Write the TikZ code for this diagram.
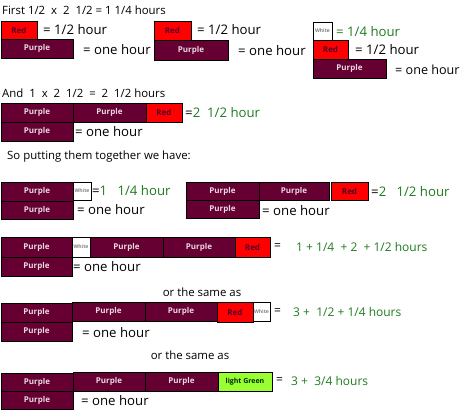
\documentclass[tikz,border=0pt]{standalone}
\usepackage{fontspec}
\setmainfont{Open Sans}
\definecolor{purp}{HTML}{660033}
\definecolor{lgreen}{HTML}{99FF33}
\definecolor{gtxt}{HTML}{1E7B1E}
\tikzset{
 bar/.style={draw=black, line width=0.8pt, anchor=north west, inner sep=0pt, outer sep=0pt, font=\fontsize{8}{8}\selectfont\bfseries},
 pbar/.style={bar, fill=purp, text=white!85!purp},
 rbar/.style={bar, fill=red, text=purp!80!black},
 wbar/.style={bar, fill=white, text=gray, font=\fontsize{5}{5}\selectfont\bfseries},
 gbar/.style={bar, fill=lgreen, text=black!60!green!40!black},
 txt/.style={anchor=west, inner sep=0pt, font=\fontsize{13.2}{13.2}\selectfont},
 stx/.style={anchor=west, inner sep=0pt, font=\fontsize{12}{12}\selectfont},
 ttl/.style={anchor=west, inner sep=0pt, font=\fontsize{11.4}{11.4}\selectfont},
 gtx/.style={txt, text=gtxt},
 sgtx/.style={stx, text=gtxt},
}
\newcommand\gr[1]{\textcolor{gtxt}{#1}}
\begin{document}
\begin{tikzpicture}[x=1pt,y=-1pt]
\useasboundingbox (0,0) rectangle (462,410);
% title
\node[ttl] (t1) at (2,10) {First 1/2\ \ x\ \ 2\ \ 1/2 = 1 1/4 hours};
% block A
\node[rbar, minimum width=36pt, minimum height=18pt] (aR) at (1,21) {Red};
\node[pbar, minimum width=72pt, minimum height=19pt] (aP) at (1,39) {Purple};
\node[txt] (aRt) at (43,30) {=\ 1/2 hour};
\node[txt] (aPt) at (83,50) {=\ one hour};
% block B
\node[rbar, minimum width=37pt, minimum height=19pt] (bR) at (154,21) {Red};
\node[pbar, minimum width=74pt, minimum height=20pt] (bP) at (154,40) {Purple};
\node[txt] (bRt) at (197,30) {=\ 1/2 hour};
\node[txt] (bPt) at (238,51) {=\ one hour};
% block C
\node[wbar, minimum width=19pt, minimum height=18pt] (cW) at (313,22) {White};
\node[rbar, minimum width=35pt, minimum height=19pt] (cR) at (313,40) {Red};
\node[pbar, minimum width=73pt, minimum height=19pt] (cP) at (313,59) {Purple};
\node[gtx] (cWt) at (336,32) {=\ 1/4 hour};
\node[txt] (cRt) at (355,50) {=\ 1/2 hour};
\node[txt, font=\fontsize{12.6}{12.6}\selectfont] (cPt) at (395,70) {=\ one hour};
% row 2
\node[ttl] (t2) at (2,93) {And\ \ 1\ \ x\ \ 2\ \ 1/2\ \ =\ \ 2\ \ 1/2 hours};
\node[pbar, minimum width=72pt, minimum height=19pt] (dP1) at (1,103) {Purple};
\node[pbar, minimum width=73pt, minimum height=19pt] (dP2) at (73,103) {Purple};
\node[rbar, minimum width=36pt, minimum height=19pt] (dR) at (146,103) {Red};
\node[txt] (dRt) at (185,113) {=\gr{2\ \ 1/2 hour}};
\node[pbar, minimum width=72pt, minimum height=19pt] (dP) at (1,122) {Purple};
\node[txt] (dPt) at (75,132) {=\ one hour};
\node[ttl] (t3) at (7,157) {So putting them together we have:};
% row 3 left
\node[pbar, minimum width=72pt, minimum height=19pt] (eP1) at (1,182) {Purple};
\node[wbar, minimum width=18pt, minimum height=18pt] (eW) at (73,182) {White};
\node[txt] (eWt) at (92,191) {=\gr{1\ \ \ 1/4 hour}};
\node[pbar, minimum width=72pt, minimum height=18pt] (eP) at (1,201) {Purple};
\node[txt] (ePt) at (77,210) {=\ one hour};
% row 3 right
\node[pbar, minimum width=73pt, minimum height=18pt] (fP1) at (186,182) {Purple};
\node[pbar, minimum width=70pt, minimum height=18pt] (fP2) at (259,182) {Purple};
\node[rbar, minimum width=37pt, minimum height=18pt] (fR) at (331,182) {Red};
\node[txt] (fRt) at (371,192) {=\gr{2\ \ \ 1/2 hour}};
\node[pbar, minimum width=73pt, minimum height=18pt] (fP) at (186,200) {Purple};
\node[txt] (fPt) at (262,211) {=\ one hour};
% row 4
\node[pbar, minimum width=71pt, minimum height=20pt] (gP1) at (1,237) {Purple};
\node[wbar, minimum width=18pt, minimum height=20pt] (gW) at (72,237) {White};
\node[pbar, minimum width=73pt, minimum height=20pt] (gP2) at (90,237) {Purple};
\node[pbar, minimum width=72pt, minimum height=20pt] (gP3) at (163,237) {Purple};
\node[rbar, minimum width=35pt, minimum height=20pt] (gR) at (235,237) {Red};
\node[stx] (gEq) at (274,247) {=};
\node[sgtx] (gRt) at (296,247) {1 + 1/4\ \ + 2\ \ + 1/2 hours};
\node[pbar, minimum width=71pt, minimum height=19pt] (gP) at (1,257) {Purple};
\node[txt] (gPt) at (73,267) {=\ one hour};
\node[ttl, anchor=center] (t4) at (202,292) {or the same as};
% row 5
\node[pbar, minimum width=71pt, minimum height=19pt] (hP1) at (1,303) {Purple};
\node[pbar, minimum width=73pt, minimum height=19pt] (hP2) at (72,302) {Purple};
\node[pbar, minimum width=72pt, minimum height=19pt] (hP3) at (145,302) {Purple};
\node[rbar, minimum width=36pt, minimum height=20pt] (hR) at (217,302) {Red};
\node[wbar, minimum width=17pt, minimum height=19pt] (hW) at (253,302) {White};
\node[stx] (hEq) at (274,312) {=};
\node[sgtx] (hWt) at (293,312) {3 +\ \ 1/2\ + 1/4\ hours};
\node[pbar, minimum width=71pt, minimum height=19pt] (hP) at (1,322) {Purple};
\node[txt] (hPt) at (82,333) {=\ one hour};
\node[ttl, anchor=center] (t5) at (190,355) {or the same as};
% row 6
\node[pbar, minimum width=72pt, minimum height=18pt] (iP1) at (1,373) {Purple};
\node[pbar, minimum width=72pt, minimum height=19pt] (iP2) at (73,372) {Purple};
\node[pbar, minimum width=73pt, minimum height=19pt] (iP3) at (145,372) {Purple};
\node[gbar, minimum width=54pt, minimum height=19pt, font=\fontsize{7}{7}\selectfont\bfseries] (iG) at (218,372) {light Green};
\node[stx] (iEq) at (276,381) {=};
\node[sgtx] (iGt) at (291,381) {3 +\ \ 3/4 hours};
\node[pbar, minimum width=72pt, minimum height=18pt] (iP) at (1,391) {Purple};
\node[txt] (iPt) at (81,401) {=\ one hour};
\end{tikzpicture}
\end{document}
